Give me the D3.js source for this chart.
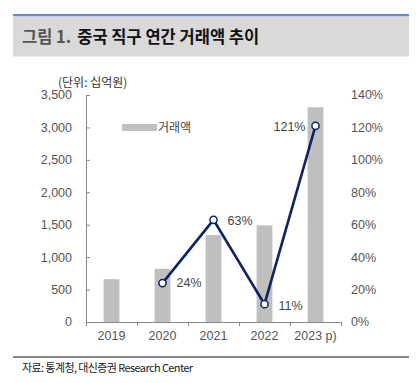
<!DOCTYPE html>
<html><head><meta charset="utf-8">
<script src="https://cdn.jsdelivr.net/npm/d3@7"></script>
<style>
body{margin:0;background:#fff;}
svg{display:block;font-family:"Liberation Sans","Noto Sans CJK KR",sans-serif;}
</style></head><body>
<svg id="c" width="416" height="383"></svg>
<script>
const categories = ["2019","2020","2021","2022","2023 p)"];
const amounts = [660, 820, 1340, 1490, 3310];
const growthYears = ["2020","2021","2022","2023 p)"];
const growth = [24, 63, 11, 121];
const leftTicks = [0,500,1000,1500,2000,2500,3000,3500];
const rightTicks = [0,20,40,60,80,100,120,140];

const svg = d3.select("#c");
const x0 = 86, x1 = 341, yTop = 95, yBot = 322;

// header
svg.append("rect").attr("x",13).attr("y",14).attr("width",396).attr("height",2.5).attr("fill","#5b8fd9");
svg.append("rect").attr("x",13).attr("y",16.5).attr("width",396).attr("height",40).attr("fill","#d9d9d9");
const t = svg.append("text").attr("x",22).attr("y",43).attr("font-size",16.5).attr("font-weight","bold")
  .attr("font-family","'Noto Sans CJK KR',sans-serif");
t.append("tspan").attr("fill","#555").text("그림 1.");
t.append("tspan").attr("fill","#111").attr("dx",6).text("중국 직구 연간 거래액 추이");

const x = d3.scaleBand().domain(categories).range([x0,x1]).paddingInner(0.69).paddingOuter(0.345);
const y = d3.scaleLinear().domain([0,3500]).range([yBot,yTop]);
const y2 = d3.scaleLinear().domain([0,140]).range([yBot,yTop]);

// bars
svg.selectAll("rect.bar").data(amounts).join("rect").attr("class","bar")
  .attr("x",(d,i)=>x(categories[i])).attr("width",x.bandwidth())
  .attr("y",d=>y(d)).attr("height",d=>yBot-y(d)).attr("fill","#bfbfbf");

// left axis
const la = svg.append("g").attr("transform",`translate(${x0},0)`)
  .call(d3.axisRight(y).tickValues(leftTicks).tickSize(4).tickFormat(""));
la.select(".domain").attr("stroke","#888");
la.selectAll(".tick line").attr("stroke","#888");
svg.selectAll("text.ly").data(leftTicks).join("text").attr("class","ly")
  .attr("x",72).attr("y",d=>y(d)).attr("dy","0.35em").attr("text-anchor","end")
  .attr("font-size",12.5).attr("fill","#555").text(d3.format(","));

// right labels
svg.selectAll("text.ry").data(rightTicks).join("text").attr("class","ry")
  .attr("x",351).attr("y",d=>y2(d)).attr("dy","0.35em").attr("text-anchor","start")
  .attr("font-size",12.5).attr("fill","#555").text(d=>d+"%");

// x axis
const xs = d3.scaleLinear().domain([0,5]).range([x0,x1]);
const xa = svg.append("g").attr("transform",`translate(0,${yBot})`)
  .call(d3.axisBottom(xs).tickValues([0,1,2,3,4,5]).tickSize(4).tickFormat(""));
xa.select(".domain").attr("stroke","#888");
xa.selectAll(".tick line").attr("stroke","#888");
svg.selectAll("text.xl").data(categories).join("text").attr("class","xl")
  .attr("x",d=>x(d)+x.bandwidth()/2).attr("y",340).attr("text-anchor","middle")
  .attr("font-size",12.5).attr("fill","#555").text(d=>d);

// unit
svg.append("text").attr("x",58).attr("y",87).attr("font-size",12).attr("fill","#333")
  .attr("font-family","'Noto Sans CJK KR',sans-serif").text("(단위: 십억원)");

// legend
svg.append("rect").attr("x",122).attr("y",124).attr("width",35).attr("height",7).attr("fill","#bfbfbf");
svg.append("text").attr("x",158).attr("y",128).attr("dy","0.35em").attr("font-size",12).attr("fill","#444")
  .attr("font-family","'Noto Sans CJK KR',sans-serif").text("거래액");

// line
const cx = d => x(d)+x.bandwidth()/2;
const line = d3.line().x((d,i)=>cx(growthYears[i])).y(d=>y2(d));
svg.append("path").attr("d",line(growth)).attr("fill","none").attr("stroke","#0b2463").attr("stroke-width",2.6);
svg.selectAll("circle.pt").data(growth).join("circle").attr("class","pt")
  .attr("cx",(d,i)=>cx(growthYears[i])).attr("cy",d=>y2(d)).attr("r",3.6)
  .attr("fill","#fff").attr("stroke","#0b2463").attr("stroke-width",1.5);
const lblOff = [[14,0,"start"],[14,1,"start"],[14,1,"start"],[-10,1,"end"]];
svg.selectAll("text.pl").data(growth).join("text").attr("class","pl")
  .attr("x",(d,i)=>cx(growthYears[i])+lblOff[i][0]).attr("y",(d,i)=>y2(d)+lblOff[i][1])
  .attr("dy","0.35em").attr("text-anchor",(d,i)=>lblOff[i][2])
  .attr("font-size",12.5).attr("fill","#444").text(d=>d+"%");

// footer
svg.append("rect").attr("x",13).attr("y",356).attr("width",396).attr("height",2).attr("fill","#888");
svg.append("text").attr("x",22).attr("y",372).attr("font-size",11).attr("fill","#222")
  .attr("letter-spacing","-0.6").attr("font-family","'Noto Sans CJK KR',sans-serif")
  .text("자료: 통계청, 대신증권 Research Center");
</script></body></html>
